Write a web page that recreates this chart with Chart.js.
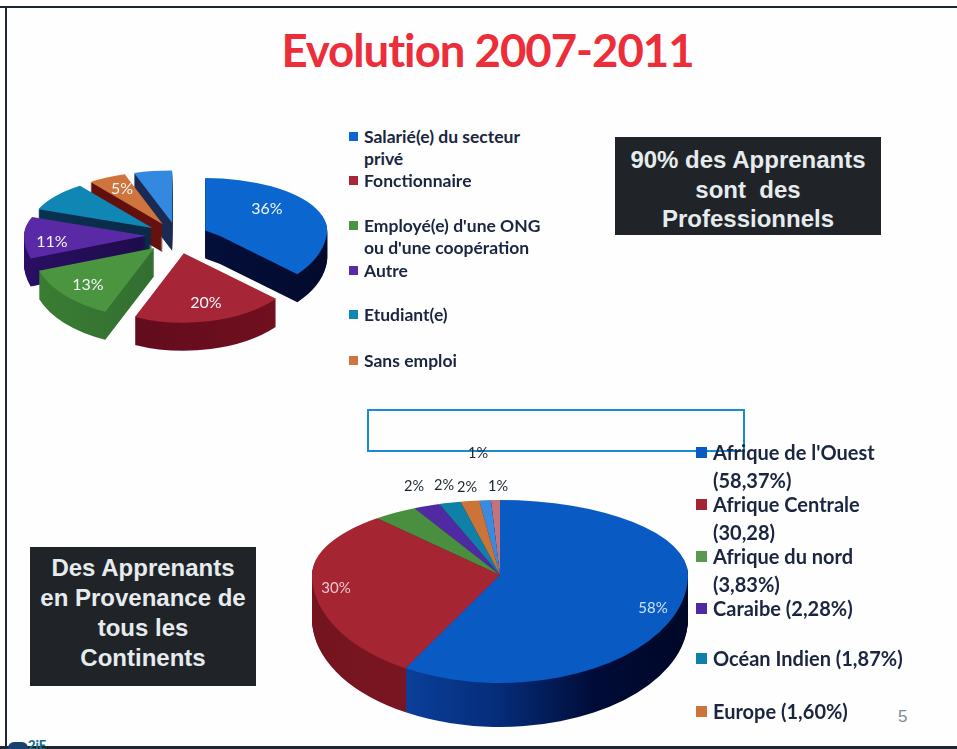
<!DOCTYPE html>
<html lang="fr"><head><meta charset="utf-8">
<script src="https://cdn.jsdelivr.net/npm/chart.js@4"></script>
<style>
html,body{margin:0;padding:0;background:#fdfefd;}
#page{position:relative;width:957px;height:749px;overflow:hidden;background:#fdfefd;font-family:Lato,sans-serif;}
#page canvas{position:absolute;}
.t{position:absolute;white-space:pre;}
.rule{position:absolute;background:#1d2733;}
#title{left:0;width:975px;text-align:center;top:20px;font-size:45.5px;line-height:60px;font-weight:700;color:#ec2d3a;letter-spacing:-1px;}
.box{position:absolute;background:#202428;color:#e6ecee;font-family:"Liberation Sans",sans-serif;font-weight:700;text-align:center;white-space:pre;}
.pct{position:absolute;transform:translate(-50%,-50%);white-space:pre;}
.lg{position:absolute;white-space:pre;font-weight:700;color:#1b2540;}
.mk{position:absolute;}
</style></head><body>
<div id="page">
  <div class="rule" style="left:0;top:6px;width:957px;height:2px"></div>
  <div class="rule" style="left:5px;top:6px;width:2px;height:743px"></div>
  <div class="rule" style="left:0;top:746px;width:957px;height:3px"></div>
  <div id="title" class="t">Evolution 2007-2011</div>
  <canvas id="pieA" width="354" height="320" style="left:0;top:76px"></canvas>
  <canvas id="pieB" width="460" height="440" style="left:270px;top:355px"></canvas>
  <div style="position:absolute;left:367px;top:409px;width:374px;height:39px;border:2px solid #1b8ad2"></div>
  <div class="box" style="left:615px;top:137px;width:266px;height:98px;font-size:24px;line-height:29.5px;padding-top:8px;box-sizing:border-box">90% des Apprenants
sont  des
Professionnels</div>
  <div class="box" style="left:30px;top:547px;width:226px;height:139px;font-size:24px;line-height:30px;padding-top:6px;box-sizing:border-box">Des Apprenants
en Provenance de
tous les
Continents</div>
  <div class="t" style="left:898px;top:707px;font:17px 'Liberation Sans',sans-serif;color:#7f8a94">5</div>
  <div style="position:absolute;left:8px;top:742px;width:20px;height:7px;background:#17406e;border-radius:6px 6px 0 0"></div>
  <div class="t" style="left:28px;top:737px;font-size:13px;font-weight:900;color:#1b6d8e">2iE</div>
</div>
<script>
// ---------- Data ----------
const jobCategories = ["Salarié(e) du secteur\nprivé","Fonctionnaire","Employé(e) d'une ONG\nou d'une coopération","Autre","Etudiant(e)","Sans emploi",""];
const jobValues = [36,20,13,11,9,5,5];
const jobLabels = ["36%","20%","13%","11%","","5%",""];
const originCategories = ["Afrique de l'Ouest\n(58,37%)","Afrique Centrale\n(30,28)","Afrique du nord\n(3,83%)","Caraibe (2,28%)","Océan Indien (1,87%)","Europe (1,60%)","",""];
const originValues = [58.37,30.28,3.83,2.28,1.87,1.60,1.0,0.77];
const originLabels = ["58%","30%","2%","2%","2%","1%","1%",""];

// ---------- Styles ----------
const jobColors = ["#0b66cf","#a62638","#4b9440","#5a2aa6","#0f86b4","#cf743c","#3388df"];
const jobWalls = [["#04144a","#030a2c"],["#5a0a1c","#74101f"],["#3a7d33","#2a6030"],["#2a0f63","#120833"],["#0a3350","#0a1f3c"],["#5c0e0c","#6e1512"],["#1b2a52","#1b2a52"]];
const originColors = ["#0a5ac4","#a52533","#4a8f3f","#4f2aa2","#0f80a8","#cc7438","#3a8ae0","#c4737c"];
const originWalls = [["#0a4aa8","#0a3f9a","#052c78","#000c38","#000826"],["#74141f","#8a1a28"],["#333","#333"],["#333","#333"],["#333","#333"],["#333","#333"],["#333","#333"],["#333","#333"]];

function tilted3d(cfg){
  return {
    id:'tilted3d',
    beforeDatasetsDraw(chart){
      const ctx=chart.ctx, arcs=chart.getDatasetMeta(0).data;
      const W=chart.width;
      const place=(arc,band,dy)=>{
        ctx.save();
        ctx.beginPath();
        const top=band.y0+(band.y0>0?dy:0), bottom=band.y1+dy;
        ctx.rect(0,top,W,bottom-top);ctx.clip();
        ctx.translate(arc.x,arc.y+dy);
        ctx.scale(1,band.t);
        ctx.translate(-arc.x,-arc.y);
        const mid=(arc.startAngle+arc.endAngle)/2, ex=cfg.explode||0;
        ctx.translate(Math.cos(mid)*ex,Math.sin(mid)*ex);
      };
      cfg.order.forEach(i=>{
        const arc=arcs[i], saved=arc.options;
        const r=arc.outerRadius;
        const g=ctx.createLinearGradient(arc.x-r,0,arc.x+r,0);
        const stops=cfg.walls[i];
        stops.forEach((c,k)=>g.addColorStop(k/(stops.length-1),c));
        arc.options={backgroundColor:g,borderColor:'transparent',borderWidth:0,offset:0,spacing:0,borderRadius:0,circular:true,borderAlign:'center'};
        for(let d=cfg.depth;d>=1;d--){
          cfg.bands.forEach(b=>{
            place(arc,b,d);
            arc.draw(ctx);
            ctx.restore();
          });
        }
        arc.options=saved;
        cfg.bands.forEach(b=>{
          place(arc,b,0);
          arc.draw(ctx);
          ctx.restore();
        });
      });
      return false;
    }
  };
}

function pie(id,labels,values,colors,radius,plugin){
  return new Chart(document.getElementById(id),{
    type:'pie',
    data:{labels:labels,datasets:[{data:values,backgroundColor:colors,borderWidth:0,radius:radius}]},
    options:{responsive:false,animation:false,events:[],
      layout:{padding:0},
      plugins:{legend:{display:false},tooltip:{enabled:false},title:{display:false}}},
    plugins:[plugin]
  });
}

pie('pieA',jobCategories,jobValues,jobColors,122,tilted3d({
  walls:jobWalls,depth:28,explode:31,order:[6,5,4,3,2,0,1],
  bands:[{t:.43,y0:0,y1:160},{t:.57,y0:160,y1:320}]
}));
pie('pieB',originCategories,originValues,originColors,188,tilted3d({
  walls:originWalls,depth:44,explode:0,order:[7,6,5,4,3,2,1,0],
  bands:[{t:.399,y0:0,y1:220},{t:.574,y0:220,y1:440}]
}));

// ---------- Text placed over the pies ----------
const page=document.getElementById('page');
function addPct(text,x,y,size,color){
  if(!text) return;
  const d=document.createElement('div');d.className='pct';d.textContent=text;
  d.style.cssText+=`left:${x}px;top:${y}px;font-size:${size}px;color:${color}`;
  page.appendChild(d);
}
const jobPctPlace=[[267,207],[206,301],[88,283],[52,240],null,[122,187],null];
jobLabels.forEach((t,i)=>{ if(t) addPct(t,jobPctPlace[i][0],jobPctPlace[i][1],16,'#f4f6fa'); });
const originPctPlace=[[653,607],[336,587],[414,485],[444,484],[467,486],[498,485],[478,452],null];
originLabels.forEach((t,i)=>{
  if(!t) return;
  const light=i<2;
  addPct(t,originPctPlace[i][0],originPctPlace[i][1],light?15:14.5,light?(i?'#f2c6cf':'#cfe2f5'):'#1d2733');
});

function addLegend(cats,colors,tops,mkX,txtX,size,lh,mk,markerOffset){
  cats.forEach((c,i)=>{
    if(!c) return;
    const t=document.createElement('div');t.className='lg';t.textContent=c;
    t.style.cssText+=`left:${txtX}px;top:${tops[i]-lh/2}px;font-size:${size}px;line-height:${lh}px`;
    page.appendChild(t);
    const m=document.createElement('div');m.className='mk';
    m.style.cssText+=`left:${mkX}px;top:${tops[i]-mk/2+markerOffset}px;width:${mk}px;height:${mk}px;background:${colors[i]}`;
    page.appendChild(m);
  });
}
addLegend(jobCategories,jobColors,[137,181,226,271,315,361],349,364,17.5,22.5,9,-1);
addLegend(originCategories,["#0a5ac4","#a52533","#5a9a50","#4f2aa2","#0f80a8","#cc7438"],[452,504,556,608,658,711],696,713,20,28,11,0);
</script>
</body></html>
